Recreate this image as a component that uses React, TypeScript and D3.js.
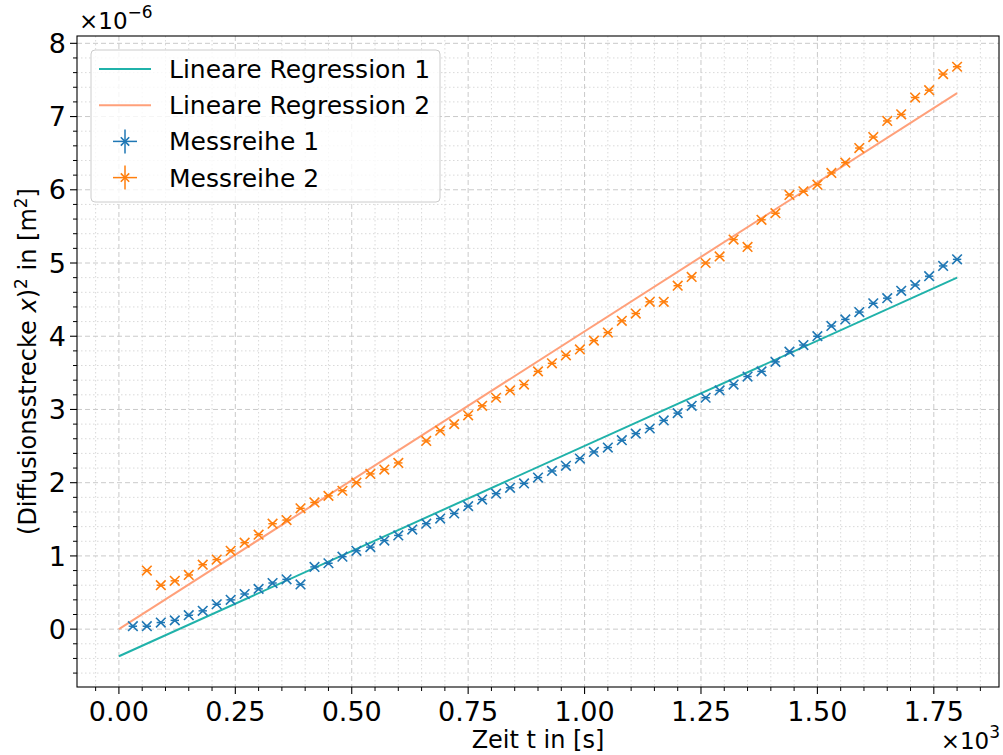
import React, { useEffect, useRef } from 'react';
import * as d3 from 'd3';

// Zeit in s, Werte in 1e-6 m^2
const t1 = [30, 60, 90, 120, 150, 180, 210, 240, 270, 300, 330, 360, 390, 420, 450, 480, 510, 540, 570, 600,
  630, 660, 690, 720, 750, 780, 810, 840, 870, 900, 930, 960, 990, 1020, 1050, 1080, 1110, 1140, 1170, 1200,
  1230, 1260, 1290, 1320, 1350, 1380, 1410, 1440, 1470, 1500, 1530, 1560, 1590, 1620, 1650, 1680, 1710, 1740, 1770, 1800];
const messreihe1 = [0.04, 0.04, 0.09, 0.12, 0.19, 0.25, 0.34, 0.40, 0.48, 0.55, 0.63, 0.68, 0.61, 0.85, 0.90, 0.99, 1.07, 1.12, 1.21, 1.28,
  1.36, 1.44, 1.51, 1.58, 1.68, 1.77, 1.85, 1.93, 1.99, 2.07, 2.16, 2.23, 2.33, 2.42, 2.48, 2.58, 2.67, 2.74, 2.85, 2.95,
  3.05, 3.16, 3.26, 3.34, 3.45, 3.52, 3.65, 3.79, 3.88, 4.00, 4.14, 4.23, 4.33, 4.45, 4.52, 4.62, 4.70, 4.82, 4.96, 5.05];

const t2 = [60, 90, 120, 150, 180, 210, 240, 270, 300, 330, 360, 390, 420, 450, 480, 510, 540, 570, 600,
  660, 690, 720, 750, 780, 810, 840, 870, 900, 930, 960, 990, 1020, 1050, 1080, 1110, 1140, 1170, 1200,
  1230, 1260, 1290, 1320, 1350, 1380, 1410, 1440, 1470, 1500, 1530, 1560, 1590, 1620, 1650, 1680, 1710, 1740, 1770, 1800];
const messreihe2 = [0.80, 0.60, 0.66, 0.74, 0.88, 0.95, 1.07, 1.18, 1.29, 1.44, 1.49, 1.65, 1.73, 1.82, 1.89, 2.00, 2.12, 2.18, 2.27,
  2.57, 2.71, 2.80, 2.92, 3.05, 3.16, 3.26, 3.34, 3.52, 3.63, 3.74, 3.82, 3.94, 4.05, 4.21, 4.31, 4.47, 4.47, 4.69,
  4.81, 5.00, 5.09, 5.32, 5.22, 5.59, 5.68, 5.93, 5.98, 6.07, 6.23, 6.37, 6.57, 6.72, 6.94, 7.03, 7.26, 7.36, 7.58, 7.68];

// Regressionsgeraden (Endpunkte)
const regT = [0, 1800];
const regression1 = [-0.37, 4.80];
const regression2 = [0.0, 7.32];

// Fehler
const tErr = 9;
const vErr = 0.02;

const xTicks = [0, 250, 500, 750, 1000, 1250, 1500, 1750];
const xTickLabels = ['0.00', '0.25', '0.50', '0.75', '1.00', '1.25', '1.50', '1.75'];
const yTicks = [0, 1, 2, 3, 4, 5, 6, 7, 8];

const FONT = 'DejaVu Sans, sans-serif';

const App = () => {
  const svgRef = useRef<SVGSVGElement>(null);

  useEffect(() => {
    const svg = d3.select(svgRef.current);
    svg.selectAll('*').remove();

    const left = 77, right = 999, top = 36, bottom = 687;

    const x = d3.scaleLinear().domain([-90, 1890]).range([left, right]);
    const y = d3.scaleLinear().domain([-0.79, 8.10]).range([bottom, top]);

    svg.append('rect').attr('width', 1003).attr('height', 755).attr('fill', 'white');

    const xMinor = d3.range(-50, 1890, 50).filter(v => v % 250 !== 0);
    const yMinor = d3.range(-0.6, 8.1, 0.2).map(v => Math.round(v * 10) / 10).filter(v => Math.abs(v - Math.round(v)) > 0.01);

    // Gitter
    const grid = svg.append('g');
    grid.selectAll('.gxm').data(xMinor).enter().append('line')
      .attr('x1', d => x(d)).attr('x2', d => x(d)).attr('y1', top).attr('y2', bottom)
      .attr('stroke', '#d9d9d9').attr('stroke-width', 1).attr('stroke-dasharray', '1.5,2.5');
    grid.selectAll('.gym').data(yMinor).enter().append('line')
      .attr('y1', d => y(d)).attr('y2', d => y(d)).attr('x1', left).attr('x2', right)
      .attr('stroke', '#d9d9d9').attr('stroke-width', 1).attr('stroke-dasharray', '1.5,2.5');
    grid.selectAll('.gx').data(xTicks).enter().append('line')
      .attr('x1', d => x(d)).attr('x2', d => x(d)).attr('y1', top).attr('y2', bottom)
      .attr('stroke', '#cacaca').attr('stroke-width', 1).attr('stroke-dasharray', '5,3');
    grid.selectAll('.gy').data(yTicks).enter().append('line')
      .attr('y1', d => y(d)).attr('y2', d => y(d)).attr('x1', left).attr('x2', right)
      .attr('stroke', '#cacaca').attr('stroke-width', 1).attr('stroke-dasharray', '5,3');

    // Regressionsgeraden
    const line = d3.line<[number, number]>().x(d => x(d[0])).y(d => y(d[1]));
    svg.append('path').datum(regT.map((t, i) => [t, regression1[i]] as [number, number]))
      .attr('d', line).attr('fill', 'none').attr('stroke', '#20b2aa').attr('stroke-width', 2);
    svg.append('path').datum(regT.map((t, i) => [t, regression2[i]] as [number, number]))
      .attr('d', line).attr('fill', 'none').attr('stroke', '#ffa07a').attr('stroke-width', 2);

    // Messpunkte mit Fehlerbalken
    const drawSeries = (ts: number[], vs: number[], color: string) => {
      const g = svg.append('g');
      ts.forEach((t, i) => {
        const cx = x(t), cy = y(vs[i]);
        g.append('line').attr('x1', x(t - tErr)).attr('x2', x(t + tErr)).attr('y1', cy).attr('y2', cy)
          .attr('stroke', color).attr('stroke-width', 1.5);
        g.append('line').attr('x1', cx).attr('x2', cx).attr('y1', y(vs[i] - vErr)).attr('y2', y(vs[i] + vErr))
          .attr('stroke', color).attr('stroke-width', 1.5);
        const s = 4.8;
        g.append('path').attr('d', `M${cx - s},${cy - s}L${cx + s},${cy + s}M${cx - s},${cy + s}L${cx + s},${cy - s}`)
          .attr('stroke', color).attr('stroke-width', 1.6);
      });
    };
    drawSeries(t1, messreihe1, '#1f77b4');
    drawSeries(t2, messreihe2, '#ff7f0e');

    // Rahmen
    svg.append('rect').attr('x', left).attr('y', top).attr('width', right - left).attr('height', bottom - top)
      .attr('fill', 'none').attr('stroke', 'black').attr('stroke-width', 1.1);

    // Achsen
    const xAxis = svg.append('g').attr('transform', `translate(0,${bottom})`);
    xAxis.selectAll('.mt').data(xMinor).enter().append('line')
      .attr('x1', d => x(d)).attr('x2', d => x(d)).attr('y1', 0).attr('y2', 4).attr('stroke', 'black');
    xAxis.selectAll('.t').data(xTicks).enter().append('line')
      .attr('x1', d => x(d)).attr('x2', d => x(d)).attr('y1', 0).attr('y2', 7).attr('stroke', 'black').attr('stroke-width', 1.1);
    xAxis.selectAll('.l').data(xTicks).enter().append('text')
      .attr('x', d => x(d)).attr('y', 34).attr('text-anchor', 'middle')
      .attr('font-family', FONT).attr('font-size', 27).text((d, i) => xTickLabels[i]);

    const yAxis = svg.append('g').attr('transform', `translate(${left},0)`);
    yAxis.selectAll('.mt').data(yMinor).enter().append('line')
      .attr('y1', d => y(d)).attr('y2', d => y(d)).attr('x1', 0).attr('x2', -4).attr('stroke', 'black');
    yAxis.selectAll('.t').data(yTicks).enter().append('line')
      .attr('y1', d => y(d)).attr('y2', d => y(d)).attr('x1', 0).attr('x2', -7).attr('stroke', 'black').attr('stroke-width', 1.1);
    yAxis.selectAll('.l').data(yTicks).enter().append('text')
      .attr('x', -11).attr('y', d => y(d)).attr('dy', '0.36em').attr('text-anchor', 'end')
      .attr('font-family', FONT).attr('font-size', 27).text(d => String(d));

    // Achsenbeschriftungen
    svg.append('text').attr('x', (left + right) / 2).attr('y', 748).attr('text-anchor', 'middle')
      .attr('font-family', FONT).attr('font-size', 24).text('Zeit t in [s]');

    const yl = svg.append('text').attr('transform', `translate(36,${(top + bottom) / 2}) rotate(-90)`)
      .attr('text-anchor', 'middle').attr('font-family', FONT).attr('font-size', 24);
    yl.append('tspan').text('(Diffusionsstrecke ');
    yl.append('tspan').attr('font-style', 'italic').text('x');
    yl.append('tspan').text(')');
    yl.append('tspan').attr('dy', -9).attr('font-size', 17).text('2');
    yl.append('tspan').attr('dy', 9).text(' in [m');
    yl.append('tspan').attr('dy', -9).attr('font-size', 17).text('2');
    yl.append('tspan').attr('dy', 9).text(']');

    // Offset-Texte
    const oy = svg.append('text').attr('x', 79).attr('y', 29).attr('font-family', FONT).attr('font-size', 23);
    oy.append('tspan').text('×10');
    oy.append('tspan').attr('dy', -11).attr('font-size', 17).text('−6');

    const ox = svg.append('text').attr('x', 1000).attr('y', 749).attr('text-anchor', 'end')
      .attr('font-family', FONT).attr('font-size', 23);
    ox.append('tspan').text('×10');
    ox.append('tspan').attr('dy', -11).attr('font-size', 17).text('3');

    // Legende
    const lg = svg.append('g');
    lg.append('rect').attr('x', 91).attr('y', 50).attr('width', 349).attr('height', 152).attr('rx', 4)
      .attr('fill', 'white').attr('fill-opacity', 0.8).attr('stroke', '#cccccc').attr('stroke-width', 1);
    const items = [
      { label: 'Lineare Regression 1', color: '#20b2aa', type: 'line' },
      { label: 'Lineare Regression 2', color: '#ffa07a', type: 'line' },
      { label: 'Messreihe 1', color: '#1f77b4', type: 'err' },
      { label: 'Messreihe 2', color: '#ff7f0e', type: 'err' },
    ];
    items.forEach((it, i) => {
      const cy = 69 + i * 36.2;
      if (it.type === 'line') {
        lg.append('line').attr('x1', 99).attr('x2', 151).attr('y1', cy).attr('y2', cy)
          .attr('stroke', it.color).attr('stroke-width', 2);
      } else {
        const cx = 125;
        lg.append('line').attr('x1', cx - 12).attr('x2', cx + 12).attr('y1', cy).attr('y2', cy)
          .attr('stroke', it.color).attr('stroke-width', 1.5);
        lg.append('line').attr('x1', cx).attr('x2', cx).attr('y1', cy - 12).attr('y2', cy + 12)
          .attr('stroke', it.color).attr('stroke-width', 1.5);
        const s = 4.2;
        lg.append('path').attr('d', `M${cx - s},${cy - s}L${cx + s},${cy + s}M${cx - s},${cy + s}L${cx + s},${cy - s}`)
          .attr('stroke', it.color).attr('stroke-width', 1.6);
      }
      lg.append('text').attr('x', 169).attr('y', cy).attr('dy', '0.36em')
        .attr('font-family', FONT).attr('font-size', 25).text(it.label);
    });
  }, []);

  return (
    <svg ref={svgRef} width={1003} height={755} style={{ position: 'absolute', left: 0, top: 0 }}></svg>
  );
};

export default App;
